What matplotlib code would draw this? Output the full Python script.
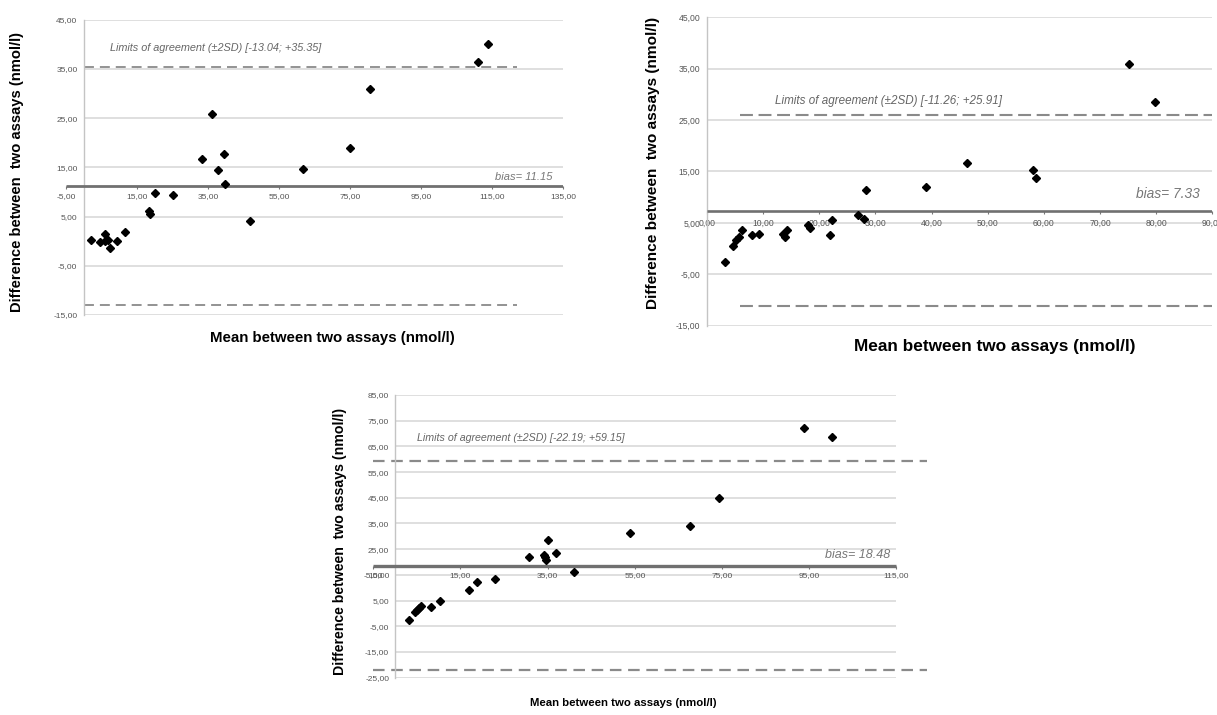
import matplotlib
matplotlib.use("Agg")
import matplotlib.pyplot as plt

plt.rcParams['font.family'] = ['Liberation Sans', 'DejaVu Sans']

# top left panel
a_mean = [2.0, 4.7, 5.9, 5.9, 6.9, 7.5, 9.4, 11.5, 18.3, 18.8, 20.0, 25.2,
          33.3, 36.2, 37.8, 39.5, 39.9, 46.9, 61.8, 75.0, 80.7, 111.2, 113.8]
a_diff = [0.3, -0.2, 1.55, 0.0, 0.2, -1.3, 0.0, 1.8, 6.2, 5.55, 9.8, 9.3,
          16.7, 25.9, 14.5, 17.8, 11.55, 4.2, 14.6, 18.9, 30.9, 36.3, 40.1]
a_bias = 11.15
a_limits = [-13.04, 35.35]
a_xticks = [-5, 15, 35, 55, 75, 95, 115, 135]
a_yticks = [-15, -5, 5, 15, 25, 35, 45]

# top right panel
b_mean = [3.3, 4.7, 5.2, 5.7, 6.3, 8.0, 9.3, 13.6, 13.9, 14.2, 18.1, 18.4,
          22.0, 22.3, 27.0, 27.9, 28.3, 39.1, 46.4, 58.1, 58.6, 75.1, 79.8]
b_diff = [-2.6, 0.5, 1.6, 2.3, 3.6, 2.6, 2.9, 2.9, 2.3, 3.7, 4.5, 4.1,
          2.6, 5.5, 6.6, 5.8, 11.35, 11.9, 16.7, 15.2, 13.7, 35.9, 28.6]
b_bias = 7.33
b_limits = [-11.26, 25.91]
b_xticks = [0, 10, 20, 30, 40, 50, 60, 70, 80, 90]
b_yticks = [-15, -5, 5, 15, 25, 35, 45]

# bottom panel
c_mean = [3.2, 4.6, 5.1, 5.5, 6.0, 8.2, 10.2, 17.0, 18.7, 22.9, 30.7, 34.2,
          34.3, 34.6, 35.0, 36.9, 41.1, 53.9, 67.7, 74.3, 93.7, 100.3]
c_diff = [-2.4, 0.45, 1.36, 2.1, 2.7, 2.4, 4.7, 9.1, 12.4, 13.4, 22.1, 22.9,
          21.9, 20.8, 28.6, 23.4, 16.3, 31.4, 34.2, 44.8, 72.2, 68.7]
c_bias = 18.48
c_limits = [-22.19, 59.15]
c_xticks = [-5, 15, 35, 55, 75, 95, 115]
c_yticks = [-25, -15, -5, 5, 15, 25, 35, 45, 55, 65, 75, 85]

ylab = "Difference between  two assays (nmol/l)"
xlab = "Mean between two assays (nmol/l)"


def fmt(v):
    return f"{v:.2f}".replace('.', ',')


def draw(ax, mean, diff, bias, limits, xticks, yticks, st):
    ax.set_xlim(st['xlim'])
    ax.set_ylim(yticks[0], yticks[-1])
    ax.patch.set_alpha(0)
    # gridlines start at the vertical axis
    ax.hlines(yticks, st['grid'][0], st['grid'][1], colors='#d6d6d6', lw=1.1, zorder=1)
    ax.hlines(limits, st['dash'][0], st['dash'][1], colors='#8a8a8a', lw=st['dlw'],
              linestyles=[(0, st['dashes'])], zorder=2)
    ax.plot(st['biasx'], [bias, bias], color='#707070', lw=st['blw'],
            solid_capstyle='butt', zorder=3)
    ax.plot(mean, diff, 'D', color='black', ms=st['ms'], zorder=4, clip_on=False)

    for s in ['top', 'right']:
        ax.spines[s].set_visible(False)
    ax.spines['left'].set_position(('data', 0))
    ax.spines['left'].set_color('#c4c4c4')
    ax.spines['left'].set_linewidth(1.0)
    ax.spines['bottom'].set_position(('data', bias))
    ax.spines['bottom'].set_color('none')

    ax.set_xticks(xticks)
    ax.set_xticklabels([fmt(v) for v in xticks])
    ax.set_yticks(yticks)
    ax.set_yticklabels([fmt(v) for v in yticks])
    ax.tick_params(axis='y', length=0, pad=st['ypad'], labelsize=st['ts'], labelcolor='#555555')
    ax.tick_params(axis='x', length=2.5, width=0.8, color='#777777', pad=st['xpad'],
                   labelsize=st['ts'], labelcolor='#555555')

    txt = f"Limits of agreement (\u00b12SD) [{limits[0]:.2f}; +{limits[1]:.2f}]"
    ax.text(st['lim_xy'][0], st['lim_xy'][1], txt, style='italic', color='#666666',
            fontsize=st['lfs'], ha='left', va='center')
    ax.text(st['bias_xy'][0], st['bias_xy'][1], f"bias= {bias:.2f}", style='italic',
            color='#777777', fontsize=st['bfs'], ha='right', va='center')


fig = plt.figure(figsize=(12.17, 7.15), dpi=100)

ax1 = fig.add_axes([0.0542, 0.5594, 0.4084, 0.4131])
draw(ax1, a_mean, a_diff, a_bias, a_limits, a_xticks, a_yticks,
     dict(xlim=(-5, 135), grid=(0, 135), dash=(0, 122), biasx=(-5, 135),
          dlw=1.3, dashes=(5.5, 3.3), blw=2.0, ms=3.6, ypad=4.5, xpad=2.2, ts=6.0,
          lim_xy=(7.5, 39.2), lfs=7.8, bias_xy=(132, 13.0), bfs=8.0))

ax2 = fig.add_axes([0.5807, 0.5445, 0.4156, 0.4313])
draw(ax2, b_mean, b_diff, b_bias, b_limits, b_xticks, b_yticks,
     dict(xlim=(0, 90), grid=(0, 90), dash=(6, 90), biasx=(0, 90),
          dlw=1.5, dashes=(6.2, 2.7), blw=1.9, ms=3.8, ypad=4.5, xpad=3.2, ts=6.2,
          lim_xy=(12.1, 28.7), lfs=8.4, bias_xy=(87.7, 10.6), bfs=9.9))

ax3 = fig.add_axes([0.3067, 0.0522, 0.455, 0.3954])
draw(ax3, c_mean, c_diff, c_bias, c_limits, c_xticks, c_yticks,
     dict(xlim=(-5, 122), grid=(0, 115), dash=(-5, 122), biasx=(-5, 115),
          dlw=1.6, dashes=(5.2, 3.0), blw=2.4, ms=3.8, ypad=4.2, xpad=2.2, ts=6.0,
          lim_xy=(5.0, 68.4), lfs=7.7, bias_xy=(113.5, 22.6), bfs=9.0))

fig.text(0.0137, 0.760, ylab, rotation=90, ha='center', va='center', fontsize=10.6, fontweight='bold')
fig.text(0.273, 0.527, xlab, ha='center', va='center', fontsize=10.8, fontweight='bold')
fig.text(0.5366, 0.772, ylab, rotation=90, ha='center', va='center', fontsize=11.1, fontweight='bold')
fig.text(0.8172, 0.516, xlab, ha='center', va='center', fontsize=12.4, fontweight='bold')
fig.text(0.2794, 0.2434, ylab, rotation=90, ha='center', va='center', fontsize=10.2, fontweight='bold')
fig.text(0.512, 0.017, xlab, ha='center', va='center', fontsize=8.2, fontweight='bold')

fig.savefig("out.png", dpi=100)
